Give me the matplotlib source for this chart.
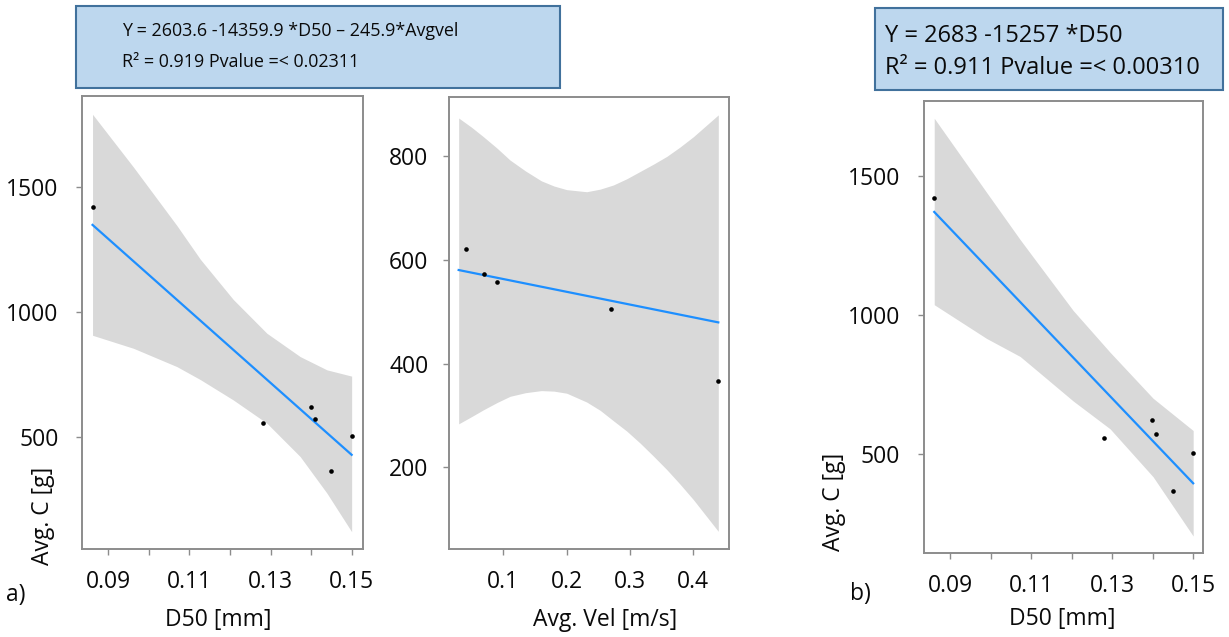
import matplotlib.pyplot as plt
from matplotlib.patches import Rectangle
import numpy as np

plt.rcParams['font.family'] = ['Open Sans', 'DejaVu Sans']

W, H = 1229, 637

# data points (same six samples in every panel)
d50 = [0.0861, 0.1281, 0.1399, 0.1409, 0.1449, 0.1500]
avg_vel = [0.0295, 0.0900, 0.0410, 0.0700, 0.4395, 0.2700]
avg_c = [1419, 557, 621, 573, 367, 505]

# model a): Y = 2603.6 - 14359.9*D50 - 245.9*Avgvel
coef_a = [2603.6, -14359.9, -245.9]
# model b): Y = 2683 - 15257*D50
coef_b = [2683, -15257]

# confidence bands
a1_band_x = [0.0861, 0.0962, 0.1069, 0.1127, 0.1208, 0.1291, 0.1373, 0.1439, 0.1500]
a1_band_hi = [1789, 1578, 1345, 1210, 1050, 915, 822, 769, 744]
a1_band_lo = [907, 855, 782, 730, 649, 556, 423, 277, 123]

a2_band_x = [0.0295, 0.0500, 0.0685, 0.0900, 0.1106, 0.1350, 0.1600, 0.1800, 0.2001,
             0.2317, 0.2530, 0.2738, 0.2950, 0.3160, 0.3370, 0.3581, 0.3790, 0.4002, 0.4395]
a2_band_hi = [873, 855, 837, 815, 792, 771, 752, 742, 735,
              731, 736, 744, 756, 770, 784, 799, 817, 837, 879]
a2_band_lo = [284, 298, 311, 325, 337, 344, 348, 347, 343,
              326, 310, 290, 270, 247, 222, 196, 168, 138, 77]

b_band_x = [0.0861, 0.0990, 0.1073, 0.1114, 0.1204, 0.1295, 0.1401, 0.1500]
b_band_hi = [1706, 1440, 1270, 1190, 1015, 865, 700, 584]
b_band_lo = [1036, 915, 850, 800, 690, 590, 418, 205]

d50_ticks = [0.09, 0.10, 0.11, 0.12, 0.13, 0.14, 0.15]
d50_ticklabels = ['0.09', '', '0.11', '', '0.13', '', '0.15']
vel_ticks = [0.1, 0.2, 0.3, 0.4]
vel_ticklabels = ['0.1', '0.2', '0.3', '0.4']

band_col = '#d9d9d9'
line_col = '#1e8fff'
spine_col = '#8c8c8c'


def px_axes(left, top, right, bottom):
    return [left / W, 1 - bottom / H, (right - left) / W, (bottom - top) / H]


def fx(x):
    return x / W


def fy(y):
    return 1 - y / H


def style(ax, ypad):
    for s in ax.spines.values():
        s.set_color(spine_col)
        s.set_linewidth(1.4)
    ax.tick_params(direction='out', length=4, width=1, color=spine_col,
                   labelsize=16.5, labelcolor='#0a0a0a')
    ax.tick_params(axis='x', pad=11)
    ax.tick_params(axis='y', pad=ypad)


fig = plt.figure(figsize=(W / 100, H / 100), dpi=100)

# --- a) D50 effect
ax1 = fig.add_axes(px_axes(82, 96, 363, 549))
ax1.fill_between(a1_band_x, a1_band_lo, a1_band_hi, color=band_col, lw=0)
v_med = np.median(avg_vel)
xs = np.array([min(d50), max(d50)])
ax1.plot(xs, coef_a[0] + coef_a[1] * xs + coef_a[2] * v_med, color=line_col, lw=1.6)
ax1.scatter(d50, avg_c, s=11, color='black', zorder=3, lw=0)
ax1.set_xlim(0.0835, 0.1528)
ax1.set_ylim(54, 1862)
ax1.set_xticks(d50_ticks)
ax1.set_xticklabels(d50_ticklabels)
ax1.set_yticks([500, 1000, 1500])
style(ax1, 13)

# --- a) velocity effect
ax2 = fig.add_axes(px_axes(449.3, 96.7, 729, 549))
ax2.fill_between(a2_band_x, a2_band_lo, a2_band_hi, color=band_col, lw=0)
d_med = np.median(d50)
vs = np.array([min(avg_vel), max(avg_vel)])
ax2.plot(vs, coef_a[0] + coef_a[1] * d_med + coef_a[2] * vs, color=line_col, lw=1.6)
ax2.scatter(avg_vel, avg_c, s=11, color='black', zorder=3, lw=0)
ax2.set_xlim(0.0147, 0.4564)
ax2.set_ylim(43, 914)
ax2.set_xticks(vel_ticks)
ax2.set_xticklabels(vel_ticklabels)
ax2.set_yticks([200, 400, 600, 800])
style(ax2, 11)

# --- b) D50 only
ax3 = fig.add_axes(px_axes(923.7, 100.7, 1203.3, 552.7))
ax3.fill_between(b_band_x, b_band_lo, b_band_hi, color=band_col, lw=0)
ax3.plot(xs, coef_b[0] + coef_b[1] * xs, color=line_col, lw=1.6)
ax3.scatter(d50, avg_c, s=11, color='black', zorder=3, lw=0)
ax3.set_xlim(0.0835, 0.1525)
ax3.set_ylim(145, 1769)
ax3.set_xticks(d50_ticks)
ax3.set_xticklabels(d50_ticklabels)
ax3.set_yticks([500, 1000, 1500])
style(ax3, 13)

# axis titles and panel letters
lab = dict(fontsize=16.5, color='#0a0a0a', ha='center', va='center')
fig.text(fx(218), fy(620), 'D50 [mm]', **lab)
fig.text(fx(605), fy(620), 'Avg. Vel [m/s]', **lab)
fig.text(fx(1062), fy(619), 'D50 [mm]', **lab)
fig.text(fx(43), fy(516), 'Avg. C [g]', rotation=90, **lab)
fig.text(fx(834), fy(502), 'Avg. C [g]', rotation=90, **lab)
fig.text(fx(16), fy(595), 'a)', **lab)
fig.text(fx(860), fy(594), 'b)', **lab)

# equation boxes
box_fc = '#bdd7ee'
box_ec = '#41719c'
fig.patches.append(Rectangle((fx(76), fy(88)), (560 - 76) / W, (88 - 6) / H,
                             transform=fig.transFigure, fc=box_fc, ec=box_ec, lw=1.5))
fig.patches.append(Rectangle((fx(875), fy(90)), (1223 - 875) / W, (90 - 8) / H,
                             transform=fig.transFigure, fc=box_fc, ec=box_ec, lw=1.5))

fig.text(fx(122), fy(31), 'Y = 2603.6 -14359.9 *D50 \u2013 245.9*Avgvel',
         fontsize=12.9, color='#0a0a0a', va='center')
fig.text(fx(122), fy(62), 'R\u00b2 = 0.919 Pvalue =< 0.02311',
         fontsize=12.9, color='#0a0a0a', va='center')
fig.text(fx(885), fy(36), 'Y = 2683 -15257 *D50',
         fontsize=17, color='#0a0a0a', va='center')
fig.text(fx(885), fy(68), 'R\u00b2 = 0.911 Pvalue =< 0.00310',
         fontsize=17, color='#0a0a0a', va='center')

fig.savefig('out.png', dpi=100)
